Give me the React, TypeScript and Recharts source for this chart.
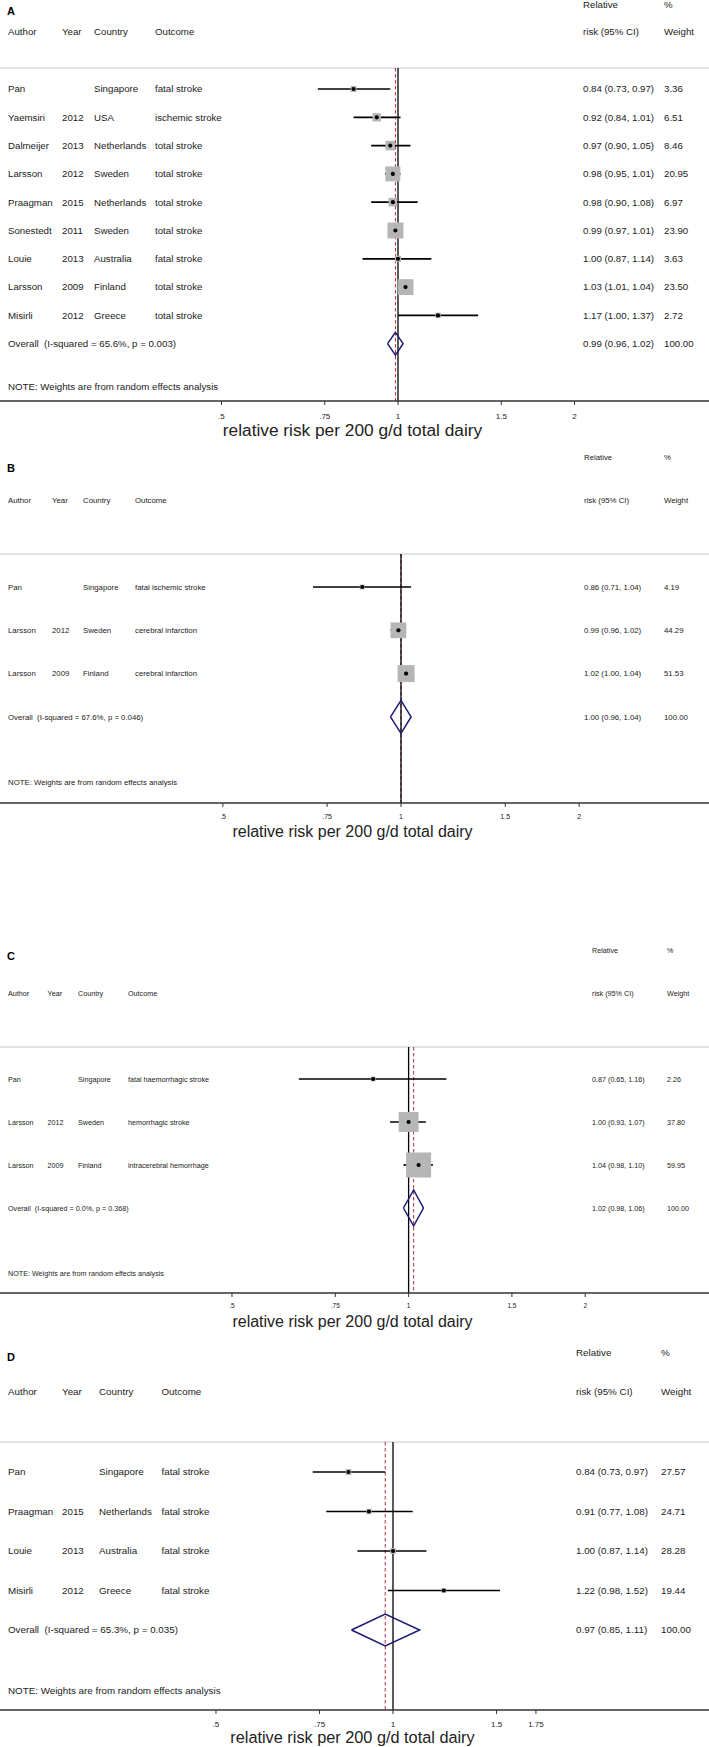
import React from 'react';
import { ComposedChart, XAxis, YAxis, Scatter, ErrorBar, Line, ReferenceLine } from 'recharts';

const FONT = '"Liberation Sans", Arial, Helvetica, sans-serif';
const TEXT = '#222222';
const W = 709;
const AXIS_TITLE = 'relative risk per 200 g/d total dairy';

// ---------- Panel A ----------
const authorsA = ['Pan', 'Yaemsiri', 'Dalmeijer', 'Larsson', 'Praagman', 'Sonestedt', 'Louie', 'Larsson', 'Misirli'];
const yearsA = ['', '2012', '2013', '2012', '2015', '2011', '2013', '2009', '2012'];
const countriesA = ['Singapore', 'USA', 'Netherlands', 'Sweden', 'Netherlands', 'Sweden', 'Australia', 'Finland', 'Greece'];
const outcomesA = ['fatal stroke', 'ischemic stroke', 'total stroke', 'total stroke', 'total stroke', 'total stroke', 'fatal stroke', 'total stroke', 'total stroke'];
const rrA = [0.84, 0.92, 0.97, 0.98, 0.98, 0.99, 1.0, 1.03, 1.17];
const loA = [0.73, 0.84, 0.9, 0.95, 0.9, 0.97, 0.87, 1.01, 1.0];
const hiA = [0.97, 1.01, 1.05, 1.01, 1.08, 1.01, 1.14, 1.04, 1.37];
const weightA = [3.36, 6.51, 8.46, 20.95, 6.97, 23.9, 3.63, 23.5, 2.72];
const overallA = [0.99, 0.96, 1.02];
const hetA = ['65.6%', '0.003'];
const ticksA = [0.5, 0.75, 1, 1.5, 2];

// ---------- Panel B ----------
const authorsB = ['Pan', 'Larsson', 'Larsson'];
const yearsB = ['', '2012', '2009'];
const countriesB = ['Singapore', 'Sweden', 'Finland'];
const outcomesB = ['fatal ischemic stroke', 'cerebral infarction', 'cerebral infarction'];
const rrB = [0.86, 0.99, 1.02];
const loB = [0.71, 0.96, 1.0];
const hiB = [1.04, 1.02, 1.04];
const weightB = [4.19, 44.29, 51.53];
const overallB = [1.0, 0.96, 1.04];
const hetB = ['67.6%', '0.046'];
const ticksB = [0.5, 0.75, 1, 1.5, 2];

// ---------- Panel C ----------
const authorsC = ['Pan', 'Larsson', 'Larsson'];
const yearsC = ['', '2012', '2009'];
const countriesC = ['Singapore', 'Sweden', 'Finland'];
const outcomesC = ['fatal haemorrhagic stroke', 'hemorrhagic stroke', 'intracerebral hemorrhage'];
const rrC = [0.87, 1.0, 1.04];
const loC = [0.65, 0.93, 0.98];
const hiC = [1.16, 1.07, 1.1];
const weightC = [2.26, 37.8, 59.95];
const overallC = [1.02, 0.98, 1.06];
const hetC = ['0.0%', '0.368'];
const ticksC = [0.5, 0.75, 1, 1.5, 2];

// ---------- Panel D ----------
const authorsD = ['Pan', 'Praagman', 'Louie', 'Misirli'];
const yearsD = ['', '2015', '2013', '2012'];
const countriesD = ['Singapore', 'Netherlands', 'Australia', 'Greece'];
const outcomesD = ['fatal stroke', 'fatal stroke', 'fatal stroke', 'fatal stroke'];
const rrD = [0.84, 0.91, 1.0, 1.22];
const loD = [0.73, 0.77, 0.87, 0.98];
const hiD = [0.97, 1.08, 1.14, 1.52];
const weightD = [27.57, 24.71, 28.28, 19.44];
const overallD = [0.97, 0.85, 1.11];
const hetD = ['65.3%', '0.035'];
const ticksD = [0.5, 0.75, 1, 1.5, 1.75];

const f2 = (v: number) => v.toFixed(2);
const tickFmt = (v: number) => (v < 1 ? String(v).replace(/^0/, '') : String(v));

type Layout = {
  letter: string; top: number; height: number; grayY: number; axisY: number; row0: number; step: number;
  noteY: number; letterY: number; relY: number; headY: number;
  cols: number[]; font: number; titleFont: number; titleY: number; tickFont: number; tickMargin: number;
  x1: number; unit: number; boxK: number; diamondH: number;
};

type PanelData = {
  authors: string[]; years: string[]; countries: string[]; outcomes: string[];
  rr: number[]; lo: number[]; hi: number[]; weights: number[]; overall: number[]; het: string[]; ticks: number[];
};

const panels: { d: PanelData; L: Layout }[] = [
  {
    d: { authors: authorsA, years: yearsA, countries: countriesA, outcomes: outcomesA, rr: rrA, lo: loA, hi: hiA, weights: weightA, overall: overallA, het: hetA, ticks: ticksA },
    L: { letter: 'A', top: 0, height: 440, grayY: 68, axisY: 401, row0: 89, step: 28.3, noteY: 387, letterY: 11, relY: 5, headY: 32,
      cols: [8, 62, 94, 155, 583, 664], font: 9.7, titleFont: 17.3, titleY: 430, tickFont: 8, tickMargin: 8, x1: 398, unit: 254.7, boxK: 3.27, diamondH: 11.4 },
  },
  {
    d: { authors: authorsB, years: yearsB, countries: countriesB, outcomes: outcomesB, rr: rrB, lo: loB, hi: hiB, weights: weightB, overall: overallB, het: hetB, ticks: ticksB },
    L: { letter: 'B', top: 440, height: 402, grayY: 554, axisY: 803, row0: 587, step: 43.3, noteY: 782, letterY: 468, relY: 457, headY: 500,
      cols: [8, 52, 83, 135, 584, 664], font: 7.8, titleFont: 16, titleY: 831, tickFont: 7, tickMargin: 7.5, x1: 401, unit: 257, boxK: 2.37, diamondH: 16.5 },
  },
  {
    d: { authors: authorsC, years: yearsC, countries: countriesC, outcomes: outcomesC, rr: rrC, lo: loC, hi: hiC, weights: weightC, overall: overallC, het: hetC, ticks: ticksC },
    L: { letter: 'C', top: 842, height: 490, grayY: 1047, axisY: 1293, row0: 1079, step: 43, noteY: 1273, letterY: 956, relY: 950, headY: 993,
      cols: [8, 47.5, 78, 128, 592, 667], font: 7.2, titleFont: 16, titleY: 1321, tickFont: 6.5, tickMargin: 6.5, x1: 408.6, unit: 254.8, boxK: 3.23, diamondH: 18 },
  },
  {
    d: { authors: authorsD, years: yearsD, countries: countriesD, outcomes: outcomesD, rr: rrD, lo: loD, hi: hiD, weights: weightD, overall: overallD, het: hetD, ticks: ticksD },
    L: { letter: 'D', top: 1332, height: 415, grayY: 1442, axisY: 1710, row0: 1472, step: 39.5, noteY: 1691, letterY: 1357, relY: 1353, headY: 1392,
      cols: [8, 62, 99, 161.5, 576, 661], font: 9.8, titleFont: 16.3, titleY: 1737, tickFont: 8, tickMargin: 7, x1: 393, unit: 255.4, boxK: 1.09, diamondH: 16 },
  },
];

function Panel({ d, L }: { d: PanelData; L: Layout }) {
  const n = d.authors.length;
  const toV = (py: number) => (py - L.row0) / L.step;
  const vTop = toV(L.top);
  const vAxis = toV(L.axisY);
  const vGray = toV(L.grayY);
  const xmin = Math.exp(-L.x1 / L.unit);
  const xmax = Math.exp((W - L.x1) / L.unit);
  const plotH = L.axisY - L.top;
  const [est, olo, ohi] = d.overall;
  const dh = L.diamondH / L.step;

  const studyPts = d.rr.map((r, i) => ({ x: r, y: i, w: d.weights[i], err: [r - d.lo[i], d.hi[i] - r] }));
  const diamond = [
    { x: olo, y: n }, { x: est, y: n - dh }, { x: ohi, y: n }, { x: est, y: n + dh }, { x: olo, y: n },
  ];
  const textRows: any[] = [
    { x: 1, y: toV(L.letterY), kind: 'letter' },
    { x: 1, y: toV(L.relY), kind: 'rel' },
    { x: 1, y: toV(L.headY), kind: 'head' },
    ...d.authors.map((_, i) => ({ x: 1, y: i, kind: 'study', i })),
    { x: 1, y: n, kind: 'overall' },
    { x: 1, y: toV(L.noteY), kind: 'note' },
  ];
  const [cA, cY, cC, cO, cR, cW] = L.cols;

  const textShape = (p: any) => {
    const cy = p.cy;
    const pl = p.payload;
    const t = (x: number, s: string, key: string, extra: any = {}) => (
      <text key={key} x={x} y={cy} dy="0.35em" fontSize={L.font} fontFamily={FONT} fill={TEXT} style={{ whiteSpace: 'pre' }} {...extra}>{s}</text>
    );
    let items: any[] = [];
    if (pl.kind === 'letter') items = [t(7, L.letter, 'l', { fontWeight: 'bold', fontSize: 11, fill: '#000' })];
    else if (pl.kind === 'rel') items = [t(cR, 'Relative', 'r'), t(cW, '%', 'p')];
    else if (pl.kind === 'head')
      items = [t(cA, 'Author', 'a'), t(cY, 'Year', 'y'), t(cC, 'Country', 'c'), t(cO, 'Outcome', 'o'), t(cR, 'risk (95% CI)', 'r'), t(cW, 'Weight', 'w')];
    else if (pl.kind === 'study') {
      const i = pl.i;
      items = [
        t(cA, d.authors[i], 'a'), t(cY, d.years[i], 'y'), t(cC, d.countries[i], 'c'), t(cO, d.outcomes[i], 'o'),
        t(cR, `${f2(d.rr[i])} (${f2(d.lo[i])}, ${f2(d.hi[i])})`, 'r'), t(cW, f2(d.weights[i]), 'w'),
      ];
    } else if (pl.kind === 'overall')
      items = [
        t(cA, `Overall  (I-squared = ${d.het[0]}, p = ${d.het[1]})`, 'a'),
        t(cR, `${f2(est)} (${f2(olo)}, ${f2(ohi)})`, 'r'), t(cW, '100.00', 'w'),
      ];
    else if (pl.kind === 'note') items = [t(cA, 'NOTE: Weights are from random effects analysis', 'n')];
    return <g>{items}</g>;
  };

  const boxShape = (p: any) => {
    const s = L.boxK * Math.sqrt(p.payload.w);
    return <rect x={p.cx - s / 2} y={p.cy - s / 2} width={s} height={s} fill="#b6b6b6" />;
  };
  const dotShape = (p: any) => <circle cx={p.cx} cy={p.cy} r={2.1} fill="#000" />;

  const titleLabel = (props: any) => {
    const vb = props.viewBox || { x: 0, width: W };
    return (
      <text x={vb.x + vb.width / 2 - 2} y={L.titleY - L.top} dy="0.35em" textAnchor="middle" fontSize={L.titleFont} fontFamily={FONT} fill={TEXT}>
        {AXIS_TITLE}
      </text>
    );
  };

  return (
    <div style={{ position: 'absolute', left: 0, top: L.top, width: W, height: L.height }}>
      <ComposedChart width={W} height={L.height} margin={{ top: 0, right: 0, bottom: 0, left: 0 }}>
        <XAxis
          dataKey="x"
          type="number"
          scale="log"
          domain={[xmin, xmax]}
          allowDataOverflow
          ticks={d.ticks}
          interval={0}
          tickFormatter={tickFmt}
          tickSize={4}
          tickMargin={L.tickMargin}
          height={L.height - plotH}
          axisLine={{ stroke: '#333', strokeWidth: 1.3 }}
          tickLine={{ stroke: '#333', strokeWidth: 1 }}
          tick={{ fontSize: L.tickFont, fill: TEXT, fontFamily: FONT }}
          label={{ content: titleLabel }}
        />
        <YAxis dataKey="y" type="number" domain={[vTop, vAxis]} allowDataOverflow reversed hide width={0} />
        <ReferenceLine y={vGray} stroke="#c6c6c6" strokeWidth={1.2} ifOverflow="visible" />
        <ReferenceLine segment={[{ x: est, y: vGray }, { x: est, y: vAxis }]} stroke="#b03040" strokeWidth={1} strokeDasharray="3.5 2.5" ifOverflow="visible" />
        <ReferenceLine segment={[{ x: 1, y: vGray }, { x: 1, y: vAxis }]} stroke="#000" strokeWidth={1.3} ifOverflow="visible" />
        <Scatter data={textRows} shape={textShape} isAnimationActive={false} />
        <Scatter data={studyPts} shape={boxShape} isAnimationActive={false} />
        <Scatter data={studyPts} shape={dotShape} isAnimationActive={false}>
          <ErrorBar dataKey="err" direction="x" width={0} stroke="#000" strokeWidth={1.7} isAnimationActive={false} />
        </Scatter>
        <Line data={diamond} dataKey="y" type="linear" stroke="#1b1b74" strokeWidth={1.5} dot={false} activeDot={false} isAnimationActive={false} />
      </ComposedChart>
    </div>
  );
}

export default function App() {
  return (
    <div style={{ position: 'absolute', left: 0, top: 0, width: W, height: 1747, background: '#fff' }}>
      {panels.map((p) => (
        <Panel key={p.L.letter} d={p.d} L={p.L} />
      ))}
    </div>
  );
}
